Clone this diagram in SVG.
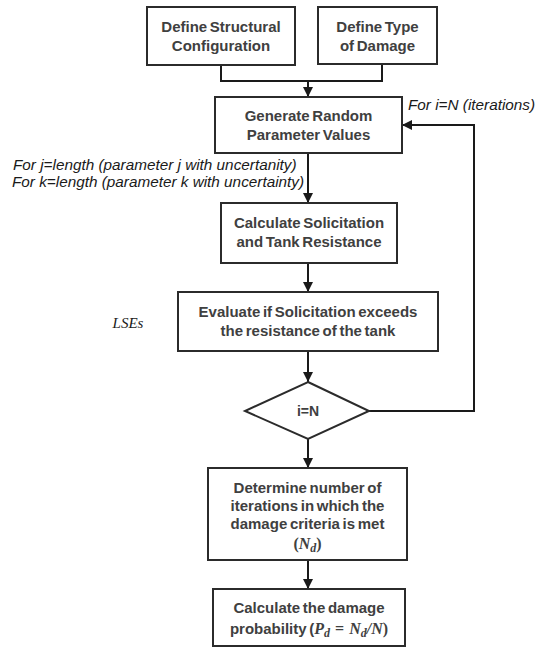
<svg xmlns="http://www.w3.org/2000/svg" width="537" height="648" viewBox="0 0 537 648">
<style>
.box{fill:#fff;stroke:#2b2b2b;stroke-width:2}
.t{font-family:"Liberation Sans",Arial,sans-serif;font-size:15px;font-weight:bold;fill:#404040;text-anchor:middle;word-spacing:-1.5px}
.lbl{font-family:"Liberation Sans",Arial,sans-serif;font-size:15.3px;font-style:italic;fill:#1a1a1a}
.m{font-family:"Liberation Serif","Times New Roman",serif;font-style:italic;font-weight:bold;font-size:16px}
.ms{font-family:"Liberation Serif","Times New Roman",serif;font-style:italic;font-weight:bold;font-size:12px}
.mr{font-family:"Liberation Serif","Times New Roman",serif;font-weight:bold;font-size:16px}
.c{fill:none;stroke:#1a1a1a;stroke-width:2}
</style>
<defs>
<marker id="ah" viewBox="0 0 10 10" refX="10" refY="5" markerWidth="5" markerHeight="5" orient="auto" markerUnits="strokeWidth">
<path d="M0,0L10,5L0,10z" fill="#1a1a1a"/>
</marker>
</defs>
<g id="connectors">
<polyline class="c" points="221,65 221,81 382,81 382,64"/>
<line class="c" x1="308" y1="81" x2="308" y2="97" marker-end="url(#ah)"/>
<line class="c" x1="308" y1="153" x2="308" y2="203" marker-end="url(#ah)"/>
<line class="c" x1="308" y1="263" x2="308" y2="292" marker-end="url(#ah)"/>
<line class="c" x1="308" y1="351" x2="308" y2="382" marker-end="url(#ah)"/>
<line class="c" x1="308" y1="439" x2="308" y2="468" marker-end="url(#ah)"/>
<line class="c" x1="308" y1="560" x2="308" y2="589" marker-end="url(#ah)"/>
<polyline class="c" points="369,411 474,411 474,125 402,125" marker-end="url(#ah)"/>
</g>
<g id="labels">
<text class="lbl" x="408" y="110">For i=N (iterations)</text>
<text class="lbl" x="13" y="170">For j=length (parameter j with uncertanity)</text>
<text class="lbl" x="12" y="187">For k=length (parameter k with uncertainty)</text>
<text x="128" y="328" font-family="Liberation Serif,Times New Roman,serif" font-style="italic" font-size="15" fill="#1a1a1a" text-anchor="middle">LSEs</text>
</g>
<g id="n1">
<rect class="box" x="147" y="7" width="148" height="58"/>
<text class="t" x="221" y="32">Define Structural</text>
<text class="t" x="221" y="51">Configuration</text>
</g>
<g id="n2">
<rect class="box" x="318" y="7" width="119" height="57"/>
<text class="t" x="377.5" y="32">Define Type</text>
<text class="t" x="377.5" y="51">of Damage</text>
</g>
<g id="n3">
<rect class="box" x="215" y="97" width="187" height="56"/>
<text class="t" x="308.5" y="121">Generate Random</text>
<text class="t" x="308.5" y="140">Parameter Values</text>
</g>
<g id="n4">
<rect class="box" x="221" y="203" width="176" height="60"/>
<text class="t" x="309" y="228">Calculate Solicitation</text>
<text class="t" x="309" y="247">and Tank Resistance</text>
</g>
<g id="n5">
<rect class="box" x="178" y="292" width="260" height="59"/>
<text class="t" x="308" y="317">Evaluate if Solicitation exceeds</text>
<text class="t" x="308" y="336">the resistance of the tank</text>
</g>
<g id="n6">
<polygon class="box" points="308,382 369,411 308,439 245,411"/>
<text x="308" y="416" font-family="Liberation Sans,Arial,sans-serif" font-size="14" font-weight="bold" fill="#404040" text-anchor="middle">i=N</text>
</g>
<g id="n7">
<rect class="box" x="208" y="468" width="199" height="92"/>
<text class="t" x="307.5" y="493">Determine number of</text>
<text class="t" x="307.5" y="511">iterations in which the</text>
<text class="t" x="307.5" y="529">damage criteria is met</text>
<text class="t" x="307.5" y="549"><tspan class="mr">(</tspan><tspan class="m">N</tspan><tspan class="ms" dy="3">d</tspan><tspan class="mr" dy="-3">)</tspan></text>
</g>
<g id="n8">
<rect class="box" x="213" y="589" width="192" height="57"/>
<text class="t" x="309" y="613">Calculate the damage</text>
<text class="t" x="309" y="634">probability (<tspan class="m">P</tspan><tspan class="ms" dy="3">d</tspan><tspan class="mr" dy="-3" xml:space="preserve">  =  </tspan><tspan class="m">N</tspan><tspan class="ms" dy="3">d</tspan><tspan class="m" dy="-3">/N</tspan><tspan class="mr">)</tspan></text>
</g>
</svg>
